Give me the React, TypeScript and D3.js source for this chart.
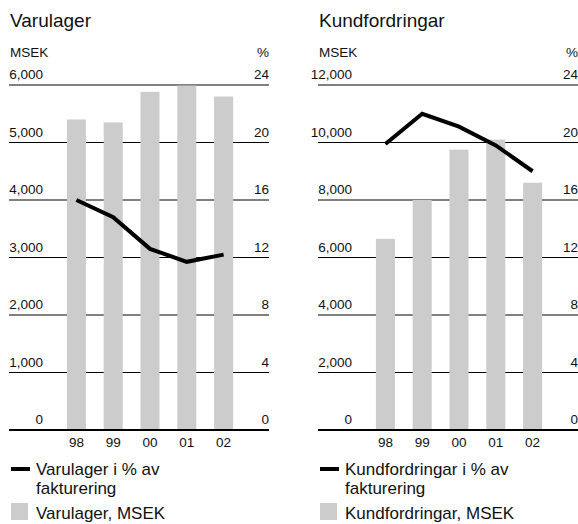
import React from 'react'
import { scaleBand, scaleLinear, line, format } from 'd3'

const years = ['98', '99', '00', '01', '02']

const varulagerMsek = [5400, 5350, 5880, 5990, 5800]
const varulagerPct = [16.0, 14.8, 12.6, 11.7, 12.2]

const kundMsek = [6650, 8000, 9750, 10100, 8600]
const kundPct = [19.9, 22.0, 21.1, 19.8, 18.0]

const leftTicksVarulager = [0, 1000, 2000, 3000, 4000, 5000, 6000]
const leftTicksKund = [0, 2000, 4000, 6000, 8000, 10000, 12000]
const rightTicks = [0, 4, 8, 12, 16, 20, 24]

const FONT = '"Liberation Sans", Arial, sans-serif'
const GREY = '#cccccc'

interface IPanelProps {
    x0: number
    title: string
    values: number[]
    pct: number[]
    leftTicks: number[]
    lineLabel: string[]
    barLabel: string
}

const Panel = (props: IPanelProps) => {
    const left = props.x0
    const right = props.x0 + 260
    const top = 85
    const bottom = 430

    const x = scaleBand()
        .domain(years)
        .range([left + 49, left + 233])
        .paddingInner(0.483)
        .paddingOuter(0.2415)

    const yMax = props.leftTicks[props.leftTicks.length - 1]
    const y = scaleLinear().domain([0, yMax]).range([bottom, top])
    const yPct = scaleLinear().domain([0, 24]).range([bottom, top])

    const fmt = format(',')
    const cx = (d: string) => (x(d) || 0) + x.bandwidth() / 2

    const pctLine = line<number>()
        .x((_, i) => cx(years[i]))
        .y(d => yPct(d))

    return (
        <g fontFamily={FONT} fill="#111">
            <text x={left + 1} y={27} fontSize={19}>{props.title}</text>
            <text x={left + 1} y={57} fontSize={13.5}>MSEK</text>
            <text x={right} y={57} fontSize={13.5} textAnchor="end">%</text>

            {props.leftTicks.map((t, i) => (
                <g key={t}>
                    <line x1={left} x2={right} y1={y(t)} y2={y(t)}
                        stroke="#000" strokeWidth={i === 0 ? 2 : 1} />
                    <text x={left + 34} y={y(t) - 6} fontSize={13.5} textAnchor="end">{fmt(t)}</text>
                    <text x={right} y={y(t) - 6} fontSize={13.5} textAnchor="end">{rightTicks[i]}</text>
                </g>
            ))}

            {props.values.map((v, i) => (
                <rect key={years[i]} x={x(years[i])} y={y(v)} width={x.bandwidth()}
                    height={bottom - 1 - y(v)} fill={GREY} />
            ))}

            <path d={pctLine(props.pct) || ''} fill="none" stroke="#000" strokeWidth={4} />

            {years.map(d => (
                <text key={d} x={cx(d)} y={447} fontSize={13.5} textAnchor="middle">{d}</text>
            ))}

            <rect x={left + 2} y={467} width={19} height={4} fill="#000" />
            <text x={left + 27} y={475} fontSize={17}>{props.lineLabel[0]}</text>
            <text x={left + 27} y={494} fontSize={17}>{props.lineLabel[1]}</text>
            <rect x={left + 2} y={503} width={17} height={17} fill={GREY} />
            <text x={left + 27} y={519} fontSize={17}>{props.barLabel}</text>
        </g>
    )
}

const App = () => {
    return (
        <svg width={578} height={524} style={{ position: 'absolute', left: 0, top: 0, background: '#fff' }}>
            <Panel x0={9} title="Varulager" values={varulagerMsek} pct={varulagerPct}
                leftTicks={leftTicksVarulager}
                lineLabel={['Varulager i % av', 'fakturering']} barLabel="Varulager, MSEK" />
            <Panel x0={318} title="Kundfordringar" values={kundMsek} pct={kundPct}
                leftTicks={leftTicksKund}
                lineLabel={['Kundfordringar i % av', 'fakturering']} barLabel="Kundfordringar, MSEK" />
        </svg>
    )
}

export default App
